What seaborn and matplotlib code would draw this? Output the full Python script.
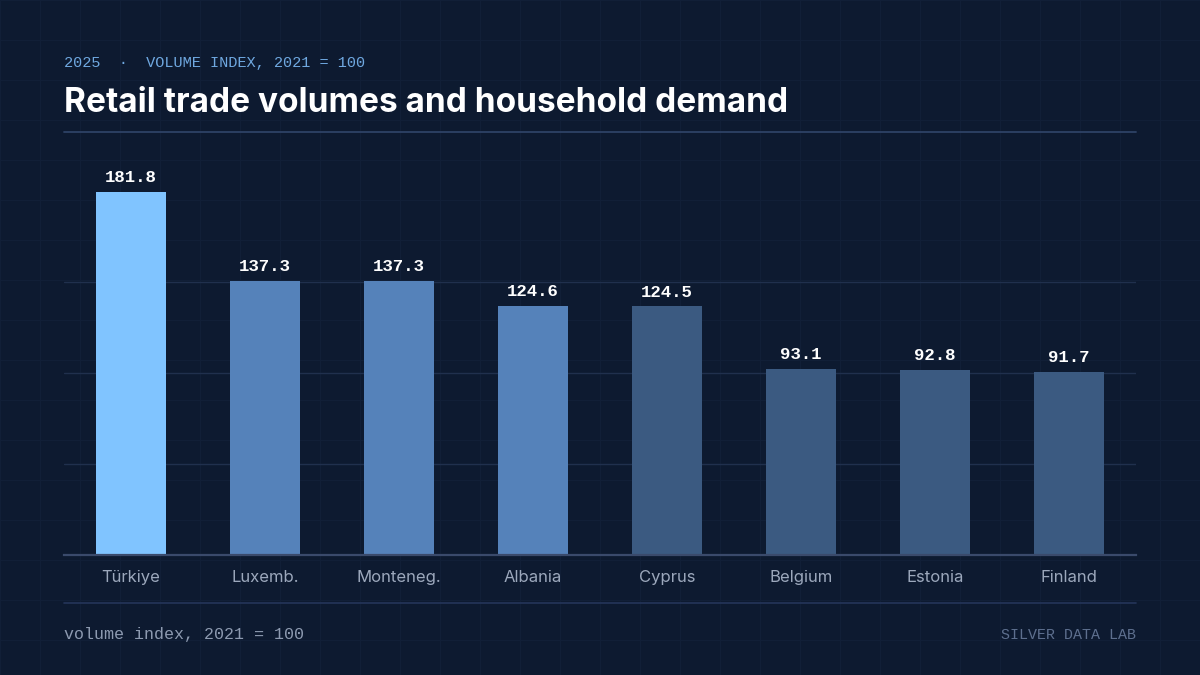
import matplotlib
matplotlib.use("Agg")
import matplotlib.pyplot as plt
import seaborn as sns
import pandas as pd

# data
countries = ["Türkiye", "Luxemb.", "Monteneg.", "Albania", "Cyprus", "Belgium", "Estonia", "Finland"]
values = [181.8, 137.3, 137.3, 124.6, 124.5, 93.1, 92.8, 91.7]
tiers = ["top", "mid", "mid", "mid", "low", "low", "low", "low"]

BG = "#0d1a30"
MONO = "Liberation Mono"
tier_colors = {"top": "#80c4ff", "mid": "#5582ba", "low": "#3b5a81"}

df = pd.DataFrame({"country": countries, "value": values, "tier": tiers})

sns.set_theme(style="dark")
fig = plt.figure(figsize=(12, 6.75), dpi=100, facecolor=BG)

# faint background grid over the whole canvas
bg = fig.add_axes([0, 0, 1, 1], zorder=-10)
bg.set_xlim(0, 1200)
bg.set_ylim(675, 0)
bg.set_facecolor(BG)
for v in range(0, 1201, 40):
    bg.axvline(v, color="#111f37", lw=0.8)
for h in range(0, 676, 40):
    bg.axhline(h, color="#111f37", lw=0.8)
bg.axis("off")

ax = fig.add_axes([64 / 1200, 1 - 555 / 675, 1072 / 1200, (555 - 191) / 675])
ax.set_facecolor("none")
sns.barplot(data=df, x="country", y="value", hue="tier", palette=tier_colors,
            dodge=False, legend=False, width=0.52, saturation=1,
            edgecolor="none", linewidth=0, ax=ax, zorder=3)

ymax = max(values) * 1.003
ax.set_ylim(0, ymax)
ax.set_xlim(-0.5, len(countries) - 0.5)
ax.set_yticks([ymax * f for f in (0.25, 0.5, 0.75)])
ax.yaxis.grid(True, color="#20304d", lw=1)
ax.xaxis.grid(False)
ax.tick_params(axis="y", left=False, labelleft=False)
ax.tick_params(axis="x", bottom=False, pad=5)
for lab in ax.get_xticklabels():
    lab.set_fontfamily(["Inter", "DejaVu Sans"])
    lab.set_fontsize(12)
    lab.set_color("#9ca8bc")
ax.set_xlabel("")
ax.set_ylabel("")
for s in ["top", "right", "left"]:
    ax.spines[s].set_visible(False)
ax.spines["bottom"].set_color("#3a4a6b")
ax.spines["bottom"].set_linewidth(1.6)
ax.spines["bottom"].set_zorder(4)

for cont in ax.containers:
    ax.bar_label(cont, fmt="%.1f", padding=5, color="white", fontsize=12.5,
                 fontweight="bold", family=MONO)

# header
fig.text(64 / 1200, 1 - 63 / 675, "2025  ·  VOLUME INDEX, 2021 = 100",
         family=MONO, fontsize=11, color="#6fa8e0", va="center")
fig.text(64 / 1200, 1 - 103 / 675, "Retail trade volumes and household demand",
         family="Inter", fontweight="bold", fontsize=24, color="white", va="center")
fig.add_artist(plt.Line2D([64 / 1200, 1136 / 1200], [1 - 132 / 675] * 2, color="#2e4266", lw=1.3))

# footer
fig.add_artist(plt.Line2D([64 / 1200, 1136 / 1200], [1 - 603 / 675] * 2, color="#24355a", lw=1.2))
fig.text(64 / 1200, 1 - 635 / 675, "volume index, 2021 = 100",
         family=MONO, fontsize=12, color="#8d9ab0", va="center")
fig.text(1136 / 1200, 1 - 635 / 675, "SILVER DATA LAB",
         family=MONO, fontsize=10.8, color="#5d6f8e", va="center", ha="right")

fig.savefig("out.png", dpi=100, facecolor=BG)
